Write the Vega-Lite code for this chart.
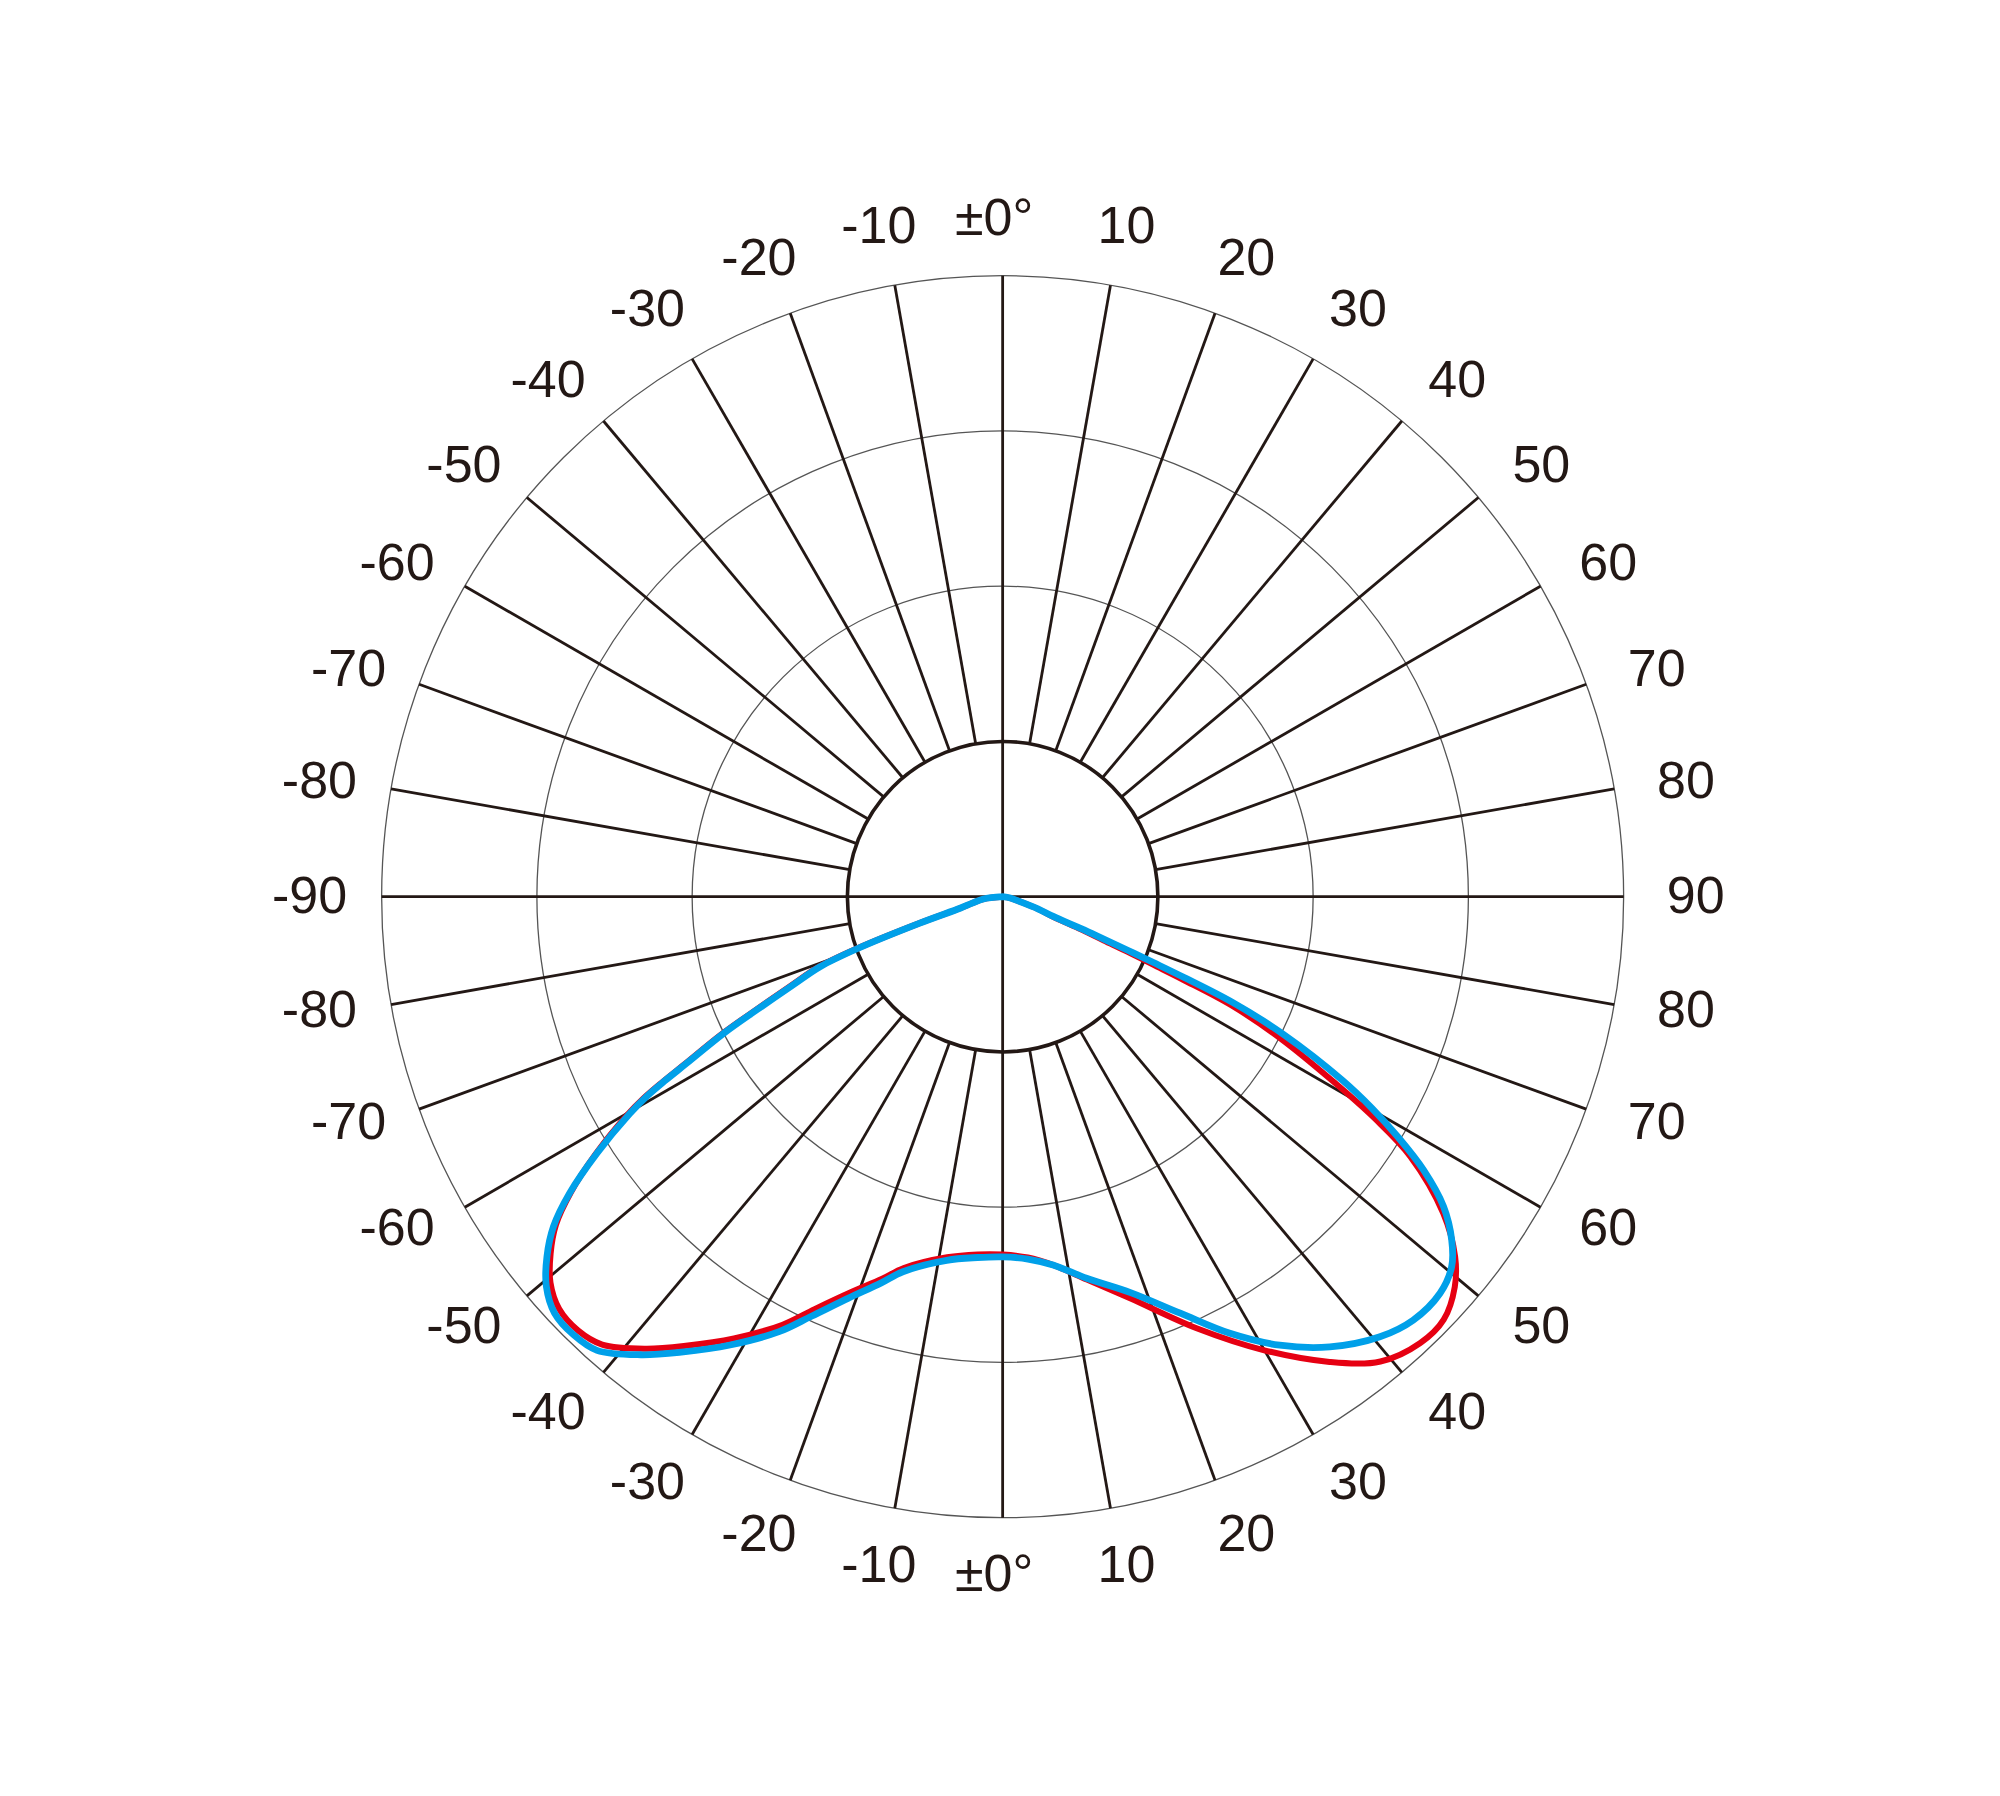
{
  "$schema": "https://vega.github.io/schema/vega-lite/v6.json",
  "width": 2000,
  "height": 1796,
  "autosize": {"type": "none"},
  "padding": 0,
  "background": "white",
  "config": {"view": {"stroke": null}},
  "datasets": {
    "rings": [{"r": 200}, {"r": 300}, {"r": 400}],
    "inner": [{"r": 100}],
    "spokes": [
      {"a": -80, "r0": 100, "r1": 400}, {"a": -70, "r0": 100, "r1": 400}, {"a": -60, "r0": 100, "r1": 400}, {"a": -50, "r0": 100, "r1": 400},
      {"a": -40, "r0": 100, "r1": 400}, {"a": -30, "r0": 100, "r1": 400}, {"a": -20, "r0": 100, "r1": 400}, {"a": -10, "r0": 100, "r1": 400},
      {"a": 10, "r0": 100, "r1": 400}, {"a": 20, "r0": 100, "r1": 400}, {"a": 30, "r0": 100, "r1": 400}, {"a": 40, "r0": 100, "r1": 400},
      {"a": 50, "r0": 100, "r1": 400}, {"a": 60, "r0": 100, "r1": 400}, {"a": 70, "r0": 100, "r1": 400}, {"a": 80, "r0": 100, "r1": 400},
      {"a": 100, "r0": 100, "r1": 400}, {"a": 110, "r0": 100, "r1": 400}, {"a": 120, "r0": 100, "r1": 400}, {"a": 130, "r0": 100, "r1": 400},
      {"a": 140, "r0": 100, "r1": 400}, {"a": 150, "r0": 100, "r1": 400}, {"a": 160, "r0": 100, "r1": 400}, {"a": 170, "r0": 100, "r1": 400},
      {"a": 190, "r0": 100, "r1": 400}, {"a": 200, "r0": 100, "r1": 400}, {"a": 210, "r0": 100, "r1": 400}, {"a": 220, "r0": 100, "r1": 400},
      {"a": 230, "r0": 100, "r1": 400}, {"a": 240, "r0": 100, "r1": 400}, {"a": 250, "r0": 100, "r1": 400}, {"a": 260, "r0": 100, "r1": 400},
      {"a": 0, "r0": -400, "r1": 400}, {"a": 90, "r0": -400, "r1": 400}
    ],
    "labels": [
      {"a": -90, "t": "-90"}, {"a": -80, "t": "-80"}, {"a": -70, "t": "-70"}, {"a": -60, "t": "-60"}, {"a": -50, "t": "-50"},
      {"a": -40, "t": "-40"}, {"a": -30, "t": "-30"}, {"a": -20, "t": "-20"}, {"a": -10, "t": "-10"}, {"a": 0, "t": "±0°"},
      {"a": 10, "t": "10"}, {"a": 20, "t": "20"}, {"a": 30, "t": "30"}, {"a": 40, "t": "40"}, {"a": 50, "t": "50"},
      {"a": 60, "t": "60"}, {"a": 70, "t": "70"}, {"a": 80, "t": "80"}, {"a": 90, "t": "90"},
      {"a": 100, "t": "80"}, {"a": 110, "t": "70"}, {"a": 120, "t": "60"}, {"a": 130, "t": "50"}, {"a": 140, "t": "40"},
      {"a": 150, "t": "30"}, {"a": 160, "t": "20"}, {"a": 170, "t": "10"}, {"a": 180, "t": "±0°"},
      {"a": 190, "t": "-10"}, {"a": 200, "t": "-20"}, {"a": 210, "t": "-30"}, {"a": 220, "t": "-40"}, {"a": 230, "t": "-50"},
      {"a": 240, "t": "-60"}, {"a": 250, "t": "-70"}, {"a": 260, "t": "-80"}
    ],
    "blue": [
      {"theta": -90, "cd": 0}, {"theta": -83.2, "cd": 12.5}, {"theta": -78, "cd": 20}, {"theta": -74.9, "cd": 28},
      {"theta": -72.3, "cd": 56}, {"theta": -70.3, "cd": 100}, {"theta": -69, "cd": 126}, {"theta": -67.2, "cd": 146},
      {"theta": -65.3, "cd": 174}, {"theta": -63.9, "cd": 200}, {"theta": -62.2, "cd": 230}, {"theta": -61.4, "cd": 248},
      {"theta": -60.7, "cd": 263}, {"theta": -59.8, "cd": 278}, {"theta": -57.7, "cd": 309}, {"theta": -55.6, "cd": 338},
      {"theta": -53.7, "cd": 359}, {"theta": -51.7, "cd": 374}, {"theta": -49.5, "cd": 386.5}, {"theta": -47.1, "cd": 394},
      {"theta": -44.4, "cd": 395}, {"theta": -41.8, "cd": 392}, {"theta": -38.3, "cd": 376}, {"theta": -35.2, "cd": 359},
      {"theta": -31.3, "cd": 338}, {"theta": -27.2, "cd": 315}, {"theta": -24.5, "cd": 297}, {"theta": -21, "cd": 277},
      {"theta": -17.5, "cd": 261}, {"theta": -14.9, "cd": 250}, {"theta": -8.75, "cd": 237}, {"theta": -4, "cd": 233},
      {"theta": 0, "cd": 232}, {"theta": 4, "cd": 234}, {"theta": 7.8, "cd": 239.5}, {"theta": 12.4, "cd": 251.7},
      {"theta": 17.9, "cd": 268}, {"theta": 23.1, "cd": 291.7}, {"theta": 27.5, "cd": 317.1}, {"theta": 31.7, "cd": 339.6},
      {"theta": 36, "cd": 358.5}, {"theta": 40.6, "cd": 373.4}, {"theta": 44.1, "cd": 379.9}, {"theta": 47.8, "cd": 380.3},
      {"theta": 50.5, "cd": 374.8}, {"theta": 52.6, "cd": 364.1}, {"theta": 54.9, "cd": 347.1}, {"theta": 57, "cd": 323.2},
      {"theta": 58.7, "cd": 298}, {"theta": 60.2, "cd": 274}, {"theta": 61.6, "cd": 249}, {"theta": 63.9, "cd": 201},
      {"theta": 65.3, "cd": 163}, {"theta": 66, "cd": 128}, {"theta": 66.4, "cd": 106}, {"theta": 66.8, "cd": 88},
      {"theta": 67.2, "cd": 71}, {"theta": 67.8, "cd": 55}, {"theta": 68.7, "cd": 35}, {"theta": 71, "cd": 24},
      {"theta": 74, "cd": 12}, {"theta": 80, "cd": 5}, {"theta": 90, "cd": 0}
    ],
    "red": [
      {"theta": -90, "cd": 0}, {"theta": -83.2, "cd": 12.5}, {"theta": -78, "cd": 20}, {"theta": -74.9, "cd": 28},
      {"theta": -72.3, "cd": 57}, {"theta": -70.3, "cd": 102}, {"theta": -69, "cd": 128}, {"theta": -67.2, "cd": 148},
      {"theta": -65.3, "cd": 176}, {"theta": -63.9, "cd": 202}, {"theta": -62.2, "cd": 232}, {"theta": -61.4, "cd": 250},
      {"theta": -60.7, "cd": 265}, {"theta": -59.8, "cd": 280}, {"theta": -57.7, "cd": 310}, {"theta": -55.6, "cd": 337},
      {"theta": -53.7, "cd": 357}, {"theta": -51.7, "cd": 371}, {"theta": -49.5, "cd": 383}, {"theta": -47.1, "cd": 390},
      {"theta": -44.4, "cd": 391}, {"theta": -41.8, "cd": 387}, {"theta": -38.3, "cd": 371}, {"theta": -35.2, "cd": 354},
      {"theta": -31.3, "cd": 333}, {"theta": -27.2, "cd": 310}, {"theta": -24.5, "cd": 292}, {"theta": -21, "cd": 273},
      {"theta": -17.5, "cd": 258}, {"theta": -14.9, "cd": 247.5}, {"theta": -8.75, "cd": 235}, {"theta": -4, "cd": 231},
      {"theta": 0, "cd": 230.5}, {"theta": 4, "cd": 233}, {"theta": 7.8, "cd": 239.5}, {"theta": 12.4, "cd": 252.5},
      {"theta": 17.6, "cd": 271.4}, {"theta": 24.2, "cd": 304.8}, {"theta": 29.9, "cd": 336.9}, {"theta": 35.1, "cd": 366.3},
      {"theta": 39.1, "cd": 385.8}, {"theta": 43.1, "cd": 393.7}, {"theta": 46.2, "cd": 393.6}, {"theta": 49.2, "cd": 384.7},
      {"theta": 51.5, "cd": 372.4}, {"theta": 54.3, "cd": 349.5}, {"theta": 57.5, "cd": 311.3}, {"theta": 59.2, "cd": 279},
      {"theta": 60.75, "cd": 245}, {"theta": 62.96, "cd": 201}, {"theta": 64.6, "cd": 163}, {"theta": 65.3, "cd": 128},
      {"theta": 65.7, "cd": 106}, {"theta": 66.2, "cd": 88}, {"theta": 66.6, "cd": 71}, {"theta": 67.3, "cd": 55},
      {"theta": 68.4, "cd": 35}, {"theta": 70.5, "cd": 25}, {"theta": 74, "cd": 12}, {"theta": 80, "cd": 5}, {"theta": 90, "cd": 0}
    ]
  },
  "layer": [
    {
      "data": {"name": "rings"},
      "mark": {"type": "arc", "theta": 0, "theta2": 6.2832, "filled": false, "fill": null, "stroke": "#555555", "strokeWidth": 1.3},
      "encoding": {
        "x": {"datum": 0, "type": "quantitative", "scale": {"domain": [-645.8, 642.4], "nice": false, "zero": false}, "axis": null},
        "y": {"datum": 0, "type": "quantitative", "scale": {"domain": [-579.3, 577.6], "nice": false, "zero": false}, "axis": null},
        "radius": {"field": "r", "type": "quantitative", "stack": null, "scale": {"type": "linear", "domain": [0, 400], "range": [0, 621], "zero": true, "nice": false}}
      }
    },
    {
      "data": {"name": "spokes"},
      "transform": [
        {"calculate": "datum.r0 * sin(datum.a * PI / 180)", "as": "xa"},
        {"calculate": "datum.r0 * cos(datum.a * PI / 180)", "as": "ya"},
        {"calculate": "datum.r1 * sin(datum.a * PI / 180)", "as": "xb"},
        {"calculate": "datum.r1 * cos(datum.a * PI / 180)", "as": "yb"}
      ],
      "mark": {"type": "rule", "color": "#231815", "strokeWidth": 2.8},
      "encoding": {
        "x": {"field": "xa", "type": "quantitative", "scale": {"domain": [-645.8, 642.4], "nice": false, "zero": false}, "axis": null},
        "y": {"field": "ya", "type": "quantitative", "scale": {"domain": [-579.3, 577.6], "nice": false, "zero": false}, "axis": null},
        "x2": {"field": "xb"},
        "y2": {"field": "yb"}
      }
    },
    {
      "data": {"name": "inner"},
      "mark": {"type": "arc", "theta": 0, "theta2": 6.2832, "filled": false, "fill": null, "stroke": "#231815", "strokeWidth": 3.6},
      "encoding": {
        "x": {"datum": 0, "type": "quantitative", "scale": {"domain": [-645.8, 642.4], "nice": false, "zero": false}, "axis": null},
        "y": {"datum": 0, "type": "quantitative", "scale": {"domain": [-579.3, 577.6], "nice": false, "zero": false}, "axis": null},
        "radius": {"field": "r", "type": "quantitative", "stack": null, "scale": {"type": "linear", "domain": [0, 400], "range": [0, 621], "zero": true, "nice": false}}
      }
    },
    {
      "data": {"name": "red"},
      "transform": [
        {"calculate": "datum.cd * sin(datum.theta * PI / 180)", "as": "px"},
        {"calculate": "-datum.cd * cos(datum.theta * PI / 180)", "as": "py"}
      ],
      "mark": {"type": "line", "color": "#E60012", "strokeWidth": 6, "strokeCap": "round", "strokeJoin": "round", "interpolate": "catmull-rom"},
      "encoding": {
        "x": {"field": "px", "type": "quantitative", "scale": {"domain": [-645.8, 642.4], "nice": false, "zero": false}, "axis": null},
        "y": {"field": "py", "type": "quantitative", "scale": {"domain": [-579.3, 577.6], "nice": false, "zero": false}, "axis": null},
        "order": {"field": "theta", "type": "quantitative"}
      }
    },
    {
      "data": {"name": "blue"},
      "transform": [
        {"calculate": "datum.cd * sin(datum.theta * PI / 180)", "as": "px"},
        {"calculate": "-datum.cd * cos(datum.theta * PI / 180)", "as": "py"}
      ],
      "mark": {"type": "line", "color": "#00A0E9", "strokeWidth": 6.8, "strokeCap": "round", "strokeJoin": "round", "interpolate": "catmull-rom"},
      "encoding": {
        "x": {"field": "px", "type": "quantitative", "scale": {"domain": [-645.8, 642.4], "nice": false, "zero": false}, "axis": null},
        "y": {"field": "py", "type": "quantitative", "scale": {"domain": [-579.3, 577.6], "nice": false, "zero": false}, "axis": null},
        "order": {"field": "theta", "type": "quantitative"}
      }
    },
    {
      "data": {"name": "labels"},
      "transform": [
        {"calculate": "datum.a + 1.4 * sin(2 * datum.a * PI / 180)", "as": "la"},
        {"calculate": "(678 + 15 * abs(sin(datum.a * PI / 180))) / 1.5525", "as": "lr"},
        {"calculate": "datum.lr * sin(datum.la * PI / 180) + (datum.t == '±0°' ? -5.5 : 0)", "as": "lx"},
        {"calculate": "datum.lr * cos(datum.la * PI / 180)", "as": "ly"}
      ],
      "mark": {"type": "text", "font": "Liberation Sans", "fontSize": 52, "color": "#231815", "align": "center", "baseline": "middle"},
      "encoding": {
        "x": {"field": "lx", "type": "quantitative", "scale": {"domain": [-645.8, 642.4], "nice": false, "zero": false}, "axis": null},
        "y": {"field": "ly", "type": "quantitative", "scale": {"domain": [-579.3, 577.6], "nice": false, "zero": false}, "axis": null},
        "text": {"field": "t", "type": "nominal"}
      }
    }
  ]
}
